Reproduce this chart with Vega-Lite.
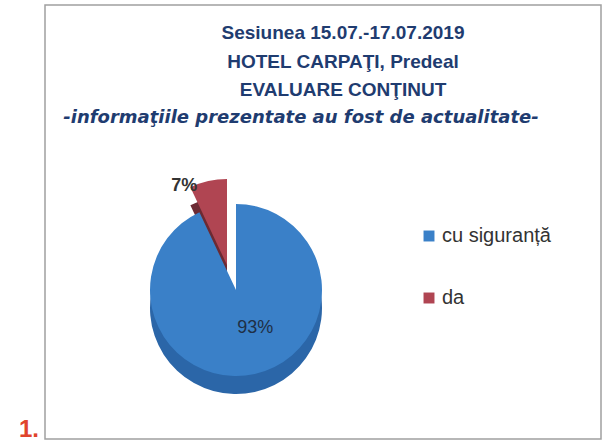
{
  "$schema": "https://vega.github.io/schema/vega-lite/v6.json",
  "autosize": {"type": "none"},
  "padding": {"left": 45, "top": 5, "right": 2, "bottom": 2},
  "width": 556,
  "height": 434,
  "background": "white",
  "view": {"stroke": "#a0a0a0", "strokeWidth": 1.5, "fill": "white"},
  "config": {"view": {"stroke": "#a0a0a0", "strokeWidth": 1.5}},
  "title": {
    "text": ["Sesiunea 15.07.-17.07.2019", "HOTEL CARPAŢI, Predeal", "EVALUARE CONŢINUT"],
    "subtitle": "-informaţiile prezentate au fost de actualitate-",
    "orient": "top",
    "anchor": "middle",
    "offset": -122,
    "dx": 20,
    "font": "Liberation Sans",
    "fontSize": 19,
    "fontWeight": "bold",
    "color": "#1f3c70",
    "lineHeight": 28.5,
    "subtitleFont": "DejaVu Sans",
    "subtitleFontSize": 18,
    "subtitleFontWeight": "bold",
    "subtitleFontStyle": "italic",
    "subtitleColor": "#1f3c70",
    "subtitleLineHeight": 24,
    "subtitlePadding": 9,
    "encode": {"subtitle": {"update": {"dx": {"value": -22}}}}
  },
  "data": {"values": [
    {"cat": "cu siguranță", "value": 93, "label": "93%", "idx": 1},
    {"cat": "da", "value": 7, "label": "7%", "idx": 2}
  ]},
  "encoding": {
    "theta": {"field": "value", "type": "quantitative", "stack": true},
    "order": {"field": "idx", "type": "quantitative"}
  },
  "layer": [
    {
      "mark": {"type": "arc", "outerRadius": 86, "x": 191, "y": 285, "xOffset": -9, "yOffset": -7, "color": "#6c2a33"},
      "encoding": {
        "opacity": {"condition": {"test": "datum.cat === 'da'", "value": 1}, "value": 0}
      }
    },
    {
      "mark": {"type": "arc", "outerRadius": 86, "x": 191, "y": 285, "xOffset": -9, "yOffset": -25},
      "encoding": {
        "color": {"field": "cat", "type": "nominal", "sort": ["cu siguranță", "da"],
          "scale": {"domain": ["cu siguranță", "da"], "range": ["#3a80c8", "#b04552"]},
          "legend": {"orient": "none", "legendX": 374, "legendY": 221, "title": null,
            "symbolType": "square", "symbolSize": 120, "symbolStrokeWidth": 0,
            "labelFont": "Liberation Sans", "labelFontSize": 20, "labelColor": "#333333",
            "labelOffset": 3, "rowPadding": 42, "symbolOpacity": 1}},
        "opacity": {"condition": {"test": "datum.cat === 'da'", "value": 1}, "value": 0, "legend": null}
      }
    },
    {
      "mark": {"type": "arc", "outerRadius": 86, "x": 191, "y": 285, "yOffset": 18, "color": "#2b66a8"},
      "encoding": {
        "opacity": {"condition": {"test": "datum.cat === 'cu siguranță'", "value": 1}, "value": 0}
      }
    },
    {
      "mark": {"type": "arc", "outerRadius": 86, "x": 191, "y": 285},
      "encoding": {
        "color": {"field": "cat", "type": "nominal", "sort": ["cu siguranță", "da"]},
        "opacity": {"condition": {"test": "datum.cat === 'cu siguranță'", "value": 1}, "value": 0, "legend": null}
      }
    },
    {
      "mark": {"type": "text", "radius": 42, "x": 191, "y": 285, "dx": 10, "dy": -3, "font": "Liberation Sans", "fontSize": 18, "color": "#1f2f45"},
      "encoding": {
        "text": {"condition": {"test": "datum.cat === 'cu siguranță'", "field": "label"}, "value": ""}
      }
    },
    {
      "mark": {"type": "text", "radius": 100, "x": 191, "y": 285, "dx": -30, "dy": -6, "font": "Liberation Sans", "fontSize": 18, "fontWeight": "bold", "color": "#333333"},
      "encoding": {
        "text": {"condition": {"test": "datum.cat === 'da'", "field": "label"}, "value": ""}
      }
    },
    {
      "data": {"values": [{"t": "1."}]},
      "mark": {"type": "text", "x": -26, "y": 432, "align": "left", "baseline": "alphabetic", "font": "Liberation Sans", "fontSize": 24, "fontWeight": "bold", "color": "#e0442c"},
      "encoding": {"text": {"field": "t"}, "theta": null, "order": null}
    }
  ]
}
